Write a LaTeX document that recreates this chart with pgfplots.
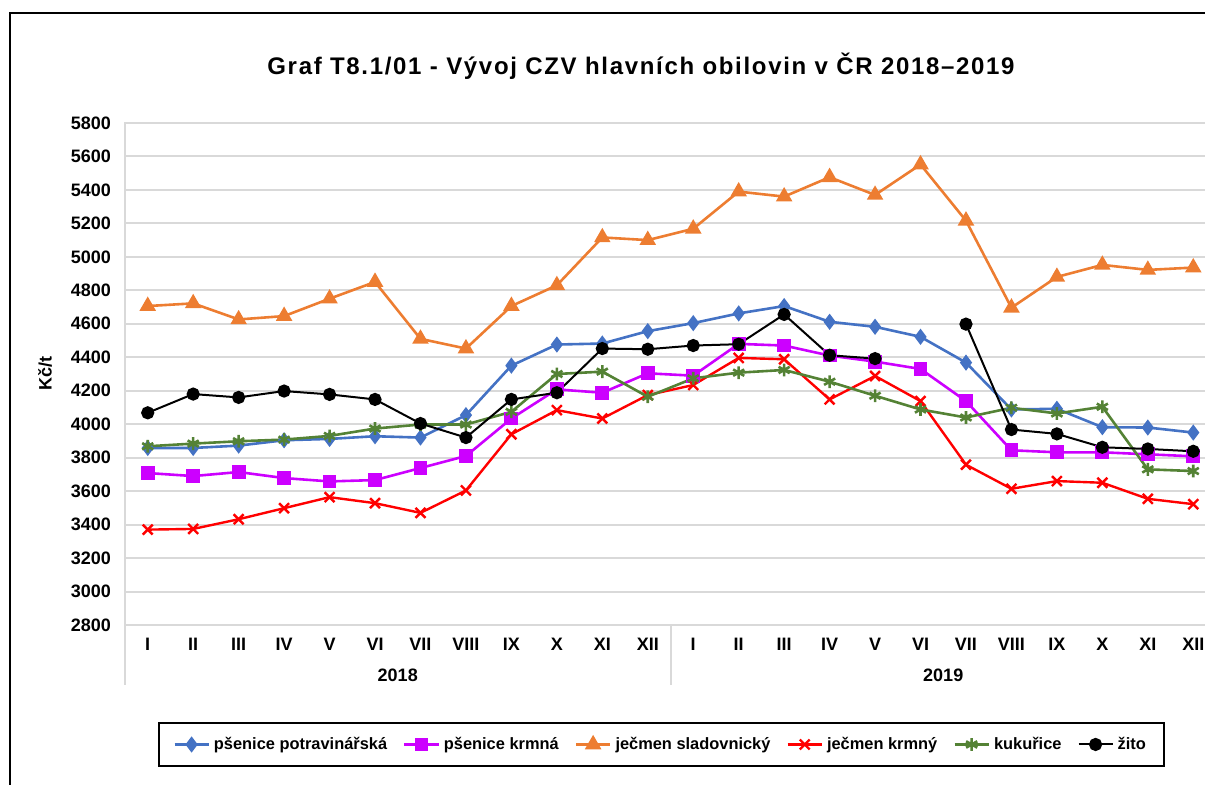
\documentclass[border=0pt]{standalone}
\usepackage{fontspec}
\setmainfont{Liberation Sans}
\usepackage{pgfplots}
\usepackage{pgfplotstable}
\pgfplotsset{compat=1.18}
\usetikzlibrary{plotmarks}

\definecolor{cblue}{HTML}{4472C4}
\definecolor{cmag}{HTML}{CC00FF}
\definecolor{corange}{HTML}{ED7D31}
\definecolor{cred}{HTML}{FF0000}
\definecolor{cgreen}{HTML}{548235}
\definecolor{cgrid}{HTML}{D9D9D9}

\pgfplotstableread{
x blue mag orange red green black
0 3858 3708 4706 3370 3868 4068
1 3858 3690 4722 3374 3884 4180
2 3872 3714 4626 3432 3898 4160
3 3904 3678 4646 3498 3908 4198
4 3912 3658 4750 3564 3930 4178
5 3928 3666 4850 3528 3974 4148
6 3920 3738 4510 3470 3998 4004
7 4054 3810 4452 3604 3998 3920
8 4350 4034 4706 3940 4074 4148
9 4476 4208 4830 4084 4300 4188
10 4482 4188 5116 4034 4314 4452
11 4556 4304 5100 4174 4164 4448
12 4604 4290 5168 4234 4274 4470
13 4662 4480 5390 4396 4308 4478
14 4706 4470 5360 4388 4324 4656
15 4612 4410 5476 4148 4254 4412
16 4582 4374 5370 4288 4170 4392
17 4522 4330 5552 4138 4088 nan
18 4368 4138 5216 3758 4040 4598
19 4088 3844 4696 3614 4098 3968
20 4092 3832 4880 3660 4064 3942
21 3982 3832 4952 3650 4104 3862
22 3980 3820 4922 3554 3730 3852
23 3950 3808 4936 3522 3720 3838
}\datatable

\begin{document}
\begin{tikzpicture}
\path[use as bounding box] (0,0) rectangle (602.5pt,392.5pt);
\draw[line width=0.8pt] (5pt,-20pt) -- (5pt,386pt) -- (700pt,386pt);
\node[font=\bfseries\fontsize{12}{14}\selectfont\addfontfeatures{LetterSpace=7}] at (320.5pt,359.5pt) {Graf T8.1/01 - Vývoj CZV hlavních obilovin v ČR 2018–2019};
\begin{axis}[
  at={(62.5pt,80pt)}, anchor=south west,
  width=545.5pt, height=251pt, scale only axis,
  xmin=-0.5, xmax=23.5, ymin=2800, ymax=5800,
  ytick={2800,3000,...,5800},
  xtick={0,...,23},
  xticklabels={I,II,III,IV,V,VI,VII,VIII,IX,X,XI,XII,I,II,III,IV,V,VI,VII,VIII,IX,X,XI,XII},
  major tick length=0pt,
  ymajorgrids, grid style={cgrid, line width=1pt},
  axis line style={cgrid, line width=1pt},
  tick label style={font=\bfseries\fontsize{9}{10}\selectfont},
  /pgf/number format/assume math mode=true,
  /pgf/number format/set thousands separator={},
  yticklabel style={xshift=-3.5pt},
  xticklabel style={yshift=-3pt},
  ylabel={Kč/t},
  ylabel style={font=\bfseries\fontsize{9}{10}\selectfont, at={(axis description cs:-0.0733,0.5)}, anchor=center},
  unbounded coords=jump,
  clip=false,
  legend columns=6,
  legend cell align=left,
  legend style={at={(0.4918,-0.238)}, anchor=center, draw=black, line width=0.9pt,
    font=\bfseries\fontsize{8.2}{11}\selectfont, inner xsep=7pt, inner ysep=5pt,
    /tikz/every even column/.append style={column sep=6pt}},
]
\addplot[cblue, line width=1.3pt, mark=diamond*, mark size=3pt] table[x=x,y=blue] {\datatable};
\addlegendentry{pšenice potravinářská}
\addplot[cmag, line width=1.3pt, mark=square*, mark size=2.8pt] table[x=x,y=mag] {\datatable};
\addlegendentry{pšenice krmná}
\addplot[corange, line width=1.3pt, mark=triangle*, mark size=3.5pt] table[x=x,y=orange] {\datatable};
\addlegendentry{ječmen sladovnický}
\addplot[cred, line width=1.2pt, mark=x, mark size=3.5pt] table[x=x,y=red] {\datatable};
\addlegendentry{ječmen krmný}
\addplot[cgreen, line width=1.3pt, mark=asterisk, mark size=3.2pt] table[x=x,y=green] {\datatable};
\addlegendentry{kukuřice}
\addplot[black, line width=1pt, mark=*, mark size=2.8pt] table[x=x,y=black] {\datatable};
\addlegendentry{žito}
\draw[cgrid, line width=1pt] (axis cs:-0.5,2800) -- ([yshift=-30pt]axis cs:-0.5,2800);
\draw[cgrid, line width=1pt] (axis cs:11.5,2800) -- ([yshift=-30pt]axis cs:11.5,2800);
\draw[cgrid, line width=1pt] (axis cs:23.5,2800) -- ([yshift=-30pt]axis cs:23.5,2800);
\node[font=\bfseries\fontsize{9}{10}\selectfont] at (axis cs:5.5,2800) [yshift=-25pt] {2018};
\node[font=\bfseries\fontsize{9}{10}\selectfont] at (axis cs:17.5,2800) [yshift=-25pt] {2019};
\end{axis}
\end{tikzpicture}
\end{document}
